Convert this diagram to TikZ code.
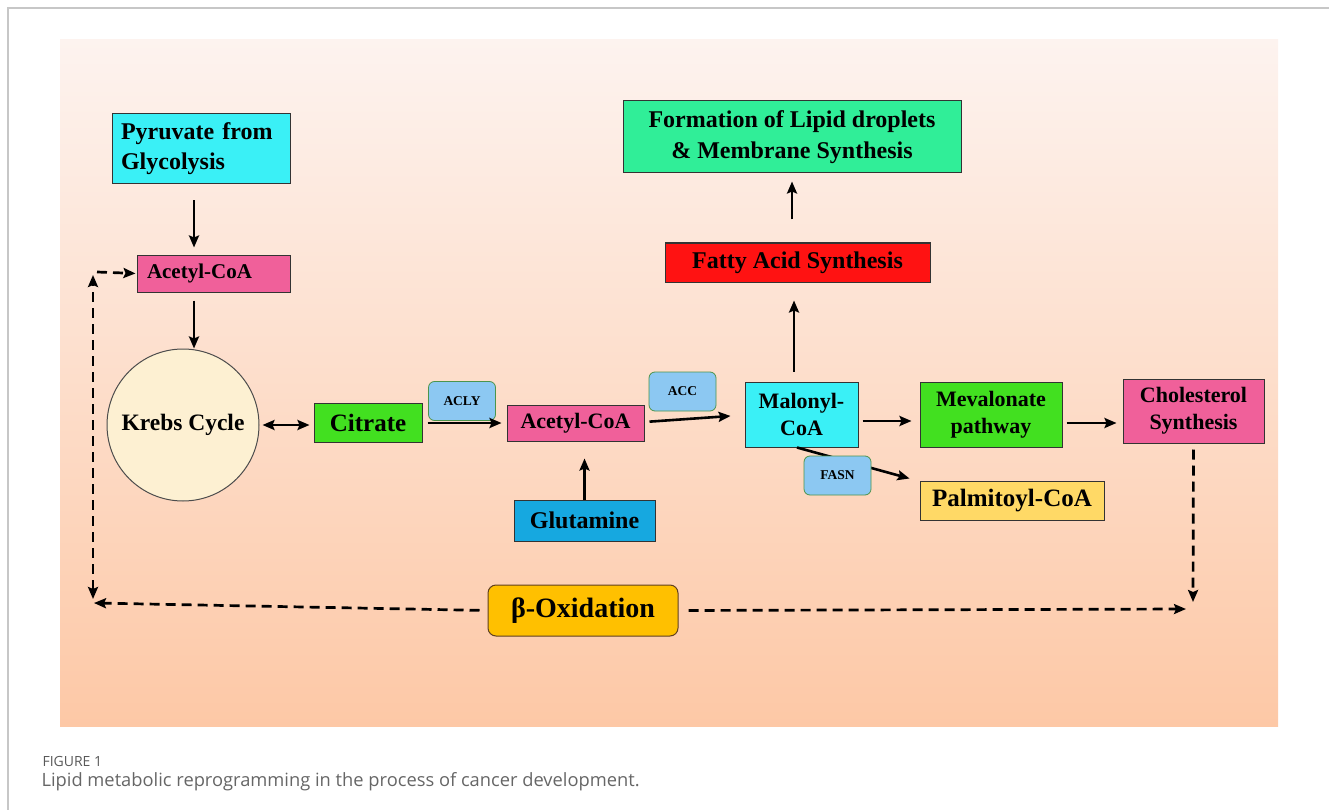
\documentclass[tikz,border=0pt]{standalone}
\usepackage{xcolor}
\usepackage{fontspec}
\setmainfont{Liberation Serif}
\newfontfamily\capfont{Open Sans}
\usepackage{tikz}
\usetikzlibrary{shapes,arrows.meta}

\definecolor{boxcyan}{HTML}{3AF0F6}
\definecolor{boxpink}{HTML}{F0609A}
\definecolor{boxgreen}{HTML}{42E020}
\definecolor{boxmint}{HTML}{30EE98}
\definecolor{boxred}{HTML}{FF1212}
\definecolor{boxblue}{HTML}{16A8E0}
\definecolor{boxyellow}{HTML}{FFD966}
\definecolor{boxorange}{HTML}{FFC000}
\definecolor{enzblue}{HTML}{8CC8F2}
\definecolor{krebsfill}{HTML}{FDF0D2}
\definecolor{paneltop}{HTML}{FDF3EF}
\definecolor{panelbot}{HTML}{FDC8A6}

\begin{document}
\begin{tikzpicture}[
    x=1pt, y=-1pt,
    >={Stealth[length=12pt,width=10pt,inset=2pt]},
    box/.style={
        rectangle,
        draw=black!80,
        line width=1pt,
        inner sep=2pt,
        align=center,
        text=black,
        font=\fontsize{22}{27}\selectfont\bfseries
    },
    enzyme/.style={
        rectangle,
        rounded corners=6pt,
        draw=black!30!green!40!gray,
        line width=0.8pt,
        fill=enzblue,
        minimum width=67pt,
        minimum height=39pt,
        font=\fontsize{13.5}{16}\selectfont\bfseries
    },
    arrow/.style={->, line width=2.6pt},
    dasharrow/.style={->, line width=2.7pt, dash pattern=on 10pt off 6pt}
]

    \useasboundingbox (0,0) rectangle (1329,810);
    \draw[black!22, line width=1.5pt] (8,810) -- (8,8) -- (1329,8);
    \shade[top color=paneltop, bottom color=panelbot] (60,40) rectangle (1278,726);

    \node[box, fill=boxcyan, minimum width=178pt, minimum height=70pt, text width=160pt, align=left,
        font=\fontsize{24}{30}\selectfont\bfseries] (pyr) at (201,149) {Pyruvate from\\Glycolysis};
    \node[box, fill=boxpink, minimum width=153pt, minimum height=37pt, text width=133pt, align=left,
        font=\fontsize{21}{25}\selectfont\bfseries] (acoa1) at (213.5,273.5) {Acetyl-CoA};
    \node[circle, draw=black!70, line width=1pt, fill=krebsfill, minimum size=152pt, inner sep=0pt,
        font=\fontsize{23.5}{28}\selectfont\bfseries] (krebs) at (183,425) {Krebs Cycle};
    \node[box, fill=boxgreen, minimum width=108pt, minimum height=39pt,
        font=\fontsize{25}{30}\selectfont\bfseries] (citrate) at (368,422.5) {Citrate};
    \node[enzyme] (acly) at (462,401) {ACLY};
    \node[box, fill=boxpink, minimum width=137pt, minimum height=36pt] (acoa2) at (575.5,423) {Acetyl-CoA};
    \node[enzyme] (acc) at (682.5,391.5) {ACC};
    \node[box, fill=boxblue, minimum width=141pt, minimum height=41pt,
        font=\fontsize{24}{29}\selectfont\bfseries] (glut) at (584.5,520.5) {Glutamine};
    \node[box, fill=boxcyan, minimum width=113pt, minimum height=65pt] (malonyl) at (801.5,414.5) {Malonyl-\\CoA};
    \node[box, fill=boxred, minimum width=265pt, minimum height=39pt,
        font=\fontsize{24}{29}\selectfont\bfseries] (fas) at (797.5,262.5) {Fatty Acid Synthesis};
    \node[box, fill=boxmint, minimum width=338pt, minimum height=72pt,
        font=\fontsize{24}{31}\selectfont\bfseries] (lipid) at (792,137) {Formation of Lipid droplets\\\& Membrane Synthesis};
    \node[box, fill=boxgreen, minimum width=142pt, minimum height=65pt] (meva) at (991,414.5) {Mevalonate\\pathway};
    \node[box, fill=boxpink, minimum width=141pt, minimum height=64pt] (chol) at (1193.5,411) {Cholesterol\\Synthesis};
    \node[box, fill=boxyellow, minimum width=184pt, minimum height=39pt,
        font=\fontsize{25}{30}\selectfont\bfseries] (palm) at (1012,500.5) {Palmitoyl-CoA};
    \node[box, fill=boxorange, draw=black!50!brown, rounded corners=8pt, minimum width=190pt, minimum height=51pt,
        font=\fontsize{28}{33}\selectfont\bfseries] (beta) at (583,610.5) {β-Oxidation};

    \coordinate (ltop) at (93,275);
    \coordinate (lbot) at (93,599);
    \coordinate (lcorner) at (97,272);
    \coordinate (lend) at (94,603);
    \coordinate (rbot) at (1193,602);
    \coordinate (rend) at (1186,609);

    \draw[arrow, shorten <=16pt, shorten >=7pt] ([xshift=-7pt]pyr.south) -- ([xshift=-7pt]pyr.south |- acoa1.north);
    \draw[arrow, shorten <=8pt] ([xshift=-19.5pt]acoa1.south) -- ([xshift=-19.5pt]acoa1.south |- krebs.north);
    \draw[<->, line width=2.6pt, shorten <=3pt, shorten >=4pt] (krebs.east) -- (krebs.east -| citrate.west);
    \draw[arrow, shorten <=5pt, shorten >=5pt] ([yshift=-0.5pt]citrate.east) -- ([yshift=-0.5pt]citrate.east -| acoa2.west);
    \draw[arrow, shorten <=5pt, shorten >=14pt] ([yshift=1pt]acoa2.east) -- ([yshift=-0.5pt]malonyl.west);
    \draw[arrow, shorten >=17pt] (glut.north) -- (glut.north |- acoa2.south);
    \draw[arrow, shorten <=10pt, shorten >=18pt] ([xshift=-7.5pt]malonyl.north) -- ([xshift=-7.5pt]malonyl.north |- fas.south);
    \draw[arrow, shorten <=23pt, shorten >=8pt] ([xshift=-5.5pt]fas.north) -- ([xshift=-5.5pt]fas.north |- lipid.south);
    \draw[arrow, shorten <=4pt, shorten >=8pt] ([yshift=-6.5pt]malonyl.east) -- ([yshift=-6.5pt]malonyl.east -| meva.west);
    \draw[arrow, shorten <=4pt, shorten >=6pt] ([yshift=-8.5pt]meva.east) -- ([yshift=-8.5pt]meva.east -| chol.west);
    \draw[arrow] ([xshift=-4.5pt]malonyl.south) -- ([xshift=-10pt,yshift=2pt]palm.north west);
    \node[enzyme] (fasn) at (837.5,475.5) {FASN};

    \draw[dasharrow, shorten <=6pt] (chol.south) -- (rbot);
    \draw[dasharrow, shorten <=10pt] (beta.east) -- (rend);
    \draw[dasharrow, shorten <=8pt] (beta.west) -- (lend);
    \draw[dasharrow, <->] (lbot) -- (ltop);
    \draw[dasharrow, shorten >=1pt] (lcorner) -- (acoa1.west);

    \node[anchor=base west, text=black!65, font=\capfont\fontsize{14}{16}\selectfont] (fig) at (39,766) {FIGURE 1};
    \node[anchor=base west, text=black!60, font=\capfont\fontsize{18.3}{21}\selectfont] (caption) at (38,786)
        {Lipid metabolic reprogramming in the process of cancer development.};
\end{tikzpicture}
\end{document}
